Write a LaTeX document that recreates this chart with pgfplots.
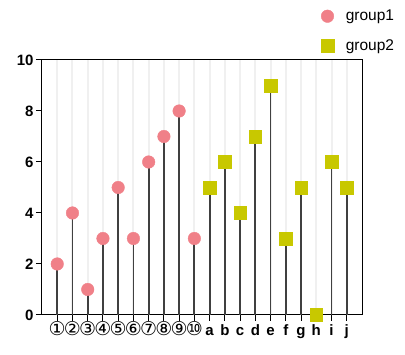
\documentclass[border=0pt]{standalone}
\usepackage{pgfplots}
\usepackage{pgfplotstable}
\usepackage{fontspec}
\setmainfont{Liberation Sans}
\newfontfamily\djsans{DejaVu Sans}
\pgfplotsset{compat=1.18}
\definecolor{gpink}{HTML}{F08088}
\definecolor{gyel}{HTML}{C8C800}
\definecolor{stem}{HTML}{404040}
\pgfplotstableread{
x y
0 2
1 4
2 1
3 3
4 5
5 3
6 6
7 7
8 8
9 3
}\groupone
\pgfplotstableread{
x y
10 5
11 6
12 4
13 7
14 9
15 3
16 5
17 0
18 6
19 5
}\grouptwo
\newcommand{\cd}[1]{{\djsans\mdseries\fontsize{19}{19}\selectfont #1}}
\begin{document}
\begin{tikzpicture}
\path[use as bounding box] (-42pt,-40pt) rectangle (363pt,315pt);
\begin{axis}[
  at={(0,0)}, anchor=south west,
  scale only axis, width=320pt, height=255pt,
  xmin=-1, xmax=20, ymin=0, ymax=10,
  axis line style={line width=1pt},
  xtick={0,...,19},
  xticklabels={\cd{①},\cd{②},\cd{③},\cd{④},\cd{⑤},\cd{⑥},\cd{⑦},\cd{⑧},\cd{⑨},\cd{⑩},a,b,c,d,e,f,g,h,i,j},
  ytick={0,2,4,6,8,10},
  tick align=outside, tick pos=left,
  major tick length=6pt,
  tick style={line width=1pt, black},
  x tick label style={font=\bfseries\fontsize{15}{15}\selectfont, anchor=north, yshift=1pt, text height=12pt, text depth=4pt, inner xsep=0pt},
  y tick label style={font=\bfseries\fontsize{15}{15}\selectfont, xshift=1pt},
  /pgf/number format/assume math mode=true,
  xmajorgrids, major grid style={line width=2pt, color=black!6},
  legend style={at={(0.8625,1.212)}, anchor=north west, draw=none, fill=none,
    font=\fontsize{15.5}{15.5}\selectfont, row sep=13pt, cells={anchor=west}},
  legend cell align=left,
  clip=false,
]
\addplot[ycomb, stem, line width=1.8pt, forget plot] table[x=x,y=y] {\groupone};
\addplot[ycomb, stem, line width=1.8pt, forget plot] table[x=x,y=y] {\grouptwo};
\addplot[only marks, mark=*, mark size=6.3pt, mark options={fill=gpink, draw=gpink}] table[x=x,y=y] {\groupone};
\addplot[only marks, mark=square*, mark size=6.3pt, mark options={fill=gyel, draw=gyel}] table[x=x,y=y] {\grouptwo};
\legend{\hspace*{10pt}group1, \hspace*{10pt}group2}
\end{axis}
\end{tikzpicture}
\end{document}
